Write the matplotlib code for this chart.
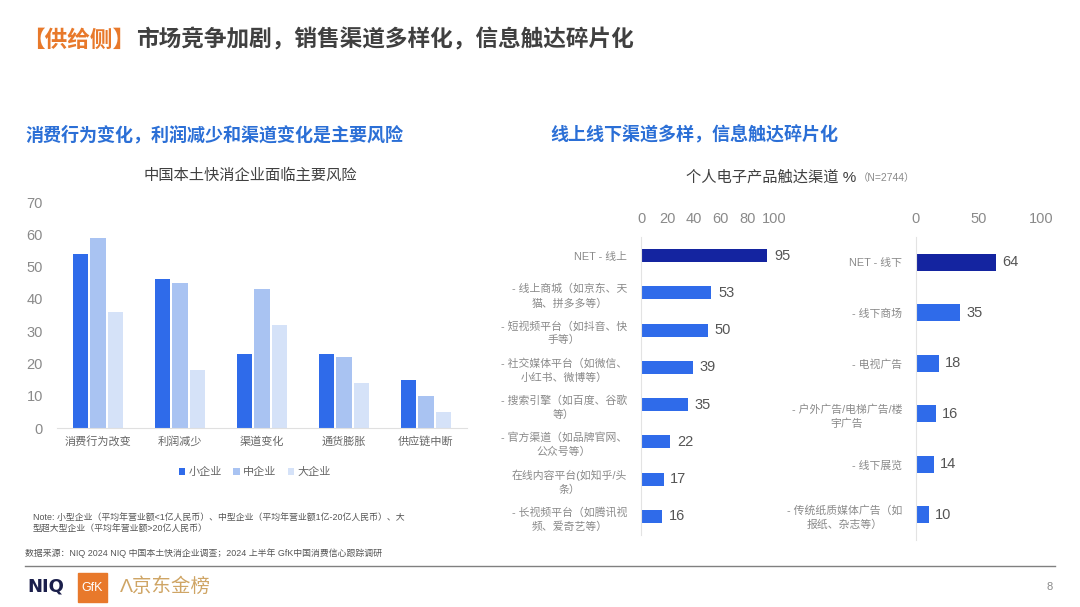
import matplotlib.pyplot as plt
import numpy as np
from matplotlib.patches import Rectangle

plt.rcParams['font.family'] = ['Liberation Sans', 'Noto Sans CJK SC', 'DejaVu Sans']

# data: left grouped bar chart
risk_cats = ['消费行为改变', '利润减少', '渠道变化', '通货膨胀', '供应链中断']
small_co = [54, 46, 23, 23, 15]
medium_co = [59, 45, 43, 22, 10]
large_co = [36, 18, 32, 14, 5]
series_names = ['小企业', '中企业', '大企业']

# data: online channels
online_labels = ['NET - 线上', '- 线上商城（如京东、天\n猫、拼多多等）', '- 短视频平台（如抖音、快\n手等）',
                 '- 社交媒体平台（如微信、\n小红书、微博等）', '- 搜索引擎（如百度、谷歌\n等）',
                 '- 官方渠道（如品牌官网、\n公众号等）', '在线内容平台(如知乎/头\n条）',
                 '- 长视频平台（如腾讯视\n频、爱奇艺等）']
online_vals = [95, 53, 50, 39, 35, 22, 17, 16]

# data: offline channels
offline_labels = ['NET - 线下', '- 线下商场', '- 电视广告', '- 户外广告/电梯广告/楼\n宇广告',
                  '- 线下展览', '- 传统纸质媒体广告（如\n报纸、杂志等）']
offline_vals = [64, 35, 18, 16, 14, 10]

W, H = 1080, 607
fig = plt.figure(figsize=(W / 100, H / 100), dpi=100)


def px_axes(x0, y0, x1, y1):
    # pixel box (top-left origin) -> figure axes
    return fig.add_axes([x0 / W, 1 - y1 / H, (x1 - x0) / W, (y1 - y0) / H])


def ft(x, y, s, **kw):
    fig.text(x / W, 1 - y / H, s, **kw)


blue = '#2F6BEA'
navy = '#1424A0'
gray_txt = '#8A8A8A'

# headings
ft(22, 40, '【供给侧】', fontsize=16.3, color='#E8792B', weight='bold', va='center')
ft(136, 40, '市场竞争加剧，销售渠道多样化，信息触达碎片化', fontsize=16.3, color='#404040',
   weight='bold', va='center')
ft(25, 135, '消费行为变化，利润减少和渠道变化是主要风险', fontsize=13, color='#2B6FD6',
   weight='bold', va='center')
ft(550, 135, '线上线下渠道多样，信息触达碎片化', fontsize=13, color='#2B6FD6',
   weight='bold', va='center')
ft(250, 176, '中国本土快消企业面临主要风险', fontsize=11, color='#404040', ha='center', va='center')
ft(856, 177, '个人电子产品触达渠道 %', fontsize=11, color='#404040', ha='right', va='center')
ft(858, 178, '（N=2744）', fontsize=7.5, color=gray_txt, ha='left', va='center')

# left grouped bars
ax = px_axes(57, 202, 467, 428)
x = np.arange(len(risk_cats))
colors = [blue, '#A9C3F2', '#D5E2F8']
for i, (vals, c) in enumerate(zip([small_co, medium_co, large_co], colors)):
    ax.bar(x + (i - 1) * 0.215, vals, width=0.19, color=c, label=series_names[i])
ax.set_xlim(-0.5, 4.5)
ax.set_ylim(0, 70)
ax.set_yticks(range(0, 71, 10))
ax.set_xticks(x)
ax.set_xticklabels(risk_cats)
for s in ['top', 'right', 'left']:
    ax.spines[s].set_visible(False)
ax.spines['bottom'].set_color('#E0E0E0')
ax.tick_params(axis='both', length=0, colors=gray_txt)
ax.tick_params(axis='y', labelsize=10.5, pad=10)
ax.tick_params(axis='x', labelsize=8, pad=6, labelcolor='#666666')
ax.legend(loc='center', bbox_to_anchor=(255 / W, 1 - 472 / H), bbox_transform=fig.transFigure,
          ncol=3, frameon=False, fontsize=8, handlelength=0.6, handleheight=0.6,
          handletextpad=0.3, columnspacing=1.0, labelcolor='#666666')

ft(33, 517, 'Note: 小型企业（平均年营业额<1亿人民币）、中型企业（平均年营业额1亿-20亿人民币）、大',
   fontsize=6.4, color='#555555', va='center')
ft(33, 529, '型超大型企业（平均年营业额>20亿人民币）', fontsize=6.4, color='#555555', va='center')
ft(25, 553, '数据来源：NIQ 2024 NIQ 中国本土快消企业调查；2024 上半年 GfK中国消费信心跟踪调研',
   fontsize=6.4, color='#555555', va='center')


def hbar(box, labels, vals, xticks):
    a = px_axes(*box)
    y = np.arange(len(vals))
    bh = 0.35 if len(vals) == 8 else 0.34
    cols = [navy] + [blue] * (len(vals) - 1)
    a.barh(y, vals, height=bh, color=cols)
    a.set_xlim(0, 100)
    a.set_ylim(len(vals) - 0.5, -0.5)
    a.xaxis.tick_top()
    a.set_xticks(xticks)
    a.set_yticks(y)
    a.set_yticklabels(labels, multialignment='center', linespacing=1.45)
    for s in ['top', 'right', 'bottom']:
        a.spines[s].set_visible(False)
    a.spines['left'].set_color('#E3E3E3')
    a.tick_params(axis='x', length=0, labelsize=10.5, colors=gray_txt, pad=8)
    a.tick_params(axis='y', length=0, labelsize=7.8, colors=gray_txt, pad=10)
    for yi, v in zip(y, vals):
        a.text(v + 5, yi, str(v), va='center', ha='left', fontsize=10.5, color='#555555',
               clip_on=False)
    return a


hbar((641, 237, 774, 535), online_labels, online_vals, range(0, 101, 20))
hbar((916, 237, 1041, 540), offline_labels, offline_vals, [0, 50, 100])

# footer
fig.add_artist(plt.Line2D([25 / W, 1055 / W], [1 - 566 / H, 1 - 566 / H], color='#808080', lw=1))
ft(27, 587, 'NIQ', fontsize=13, color='#1B1F4B', weight='bold', va='center', family='DejaVu Sans')
fig.add_artist(Rectangle((78 / W, 1 - 602 / H), 29 / W, 29 / H, transform=fig.transFigure,
                         color='#E8792B'))
ft(92.5, 588, 'GfK', fontsize=9, color='white', ha='center', va='center')
ft(120, 587, 'Λ京东金榜', fontsize=14, color='#CFA565', va='center')
ft(1050, 587, '8', fontsize=8, color=gray_txt, ha='center', va='center')

fig.savefig('out.png', dpi=100)
